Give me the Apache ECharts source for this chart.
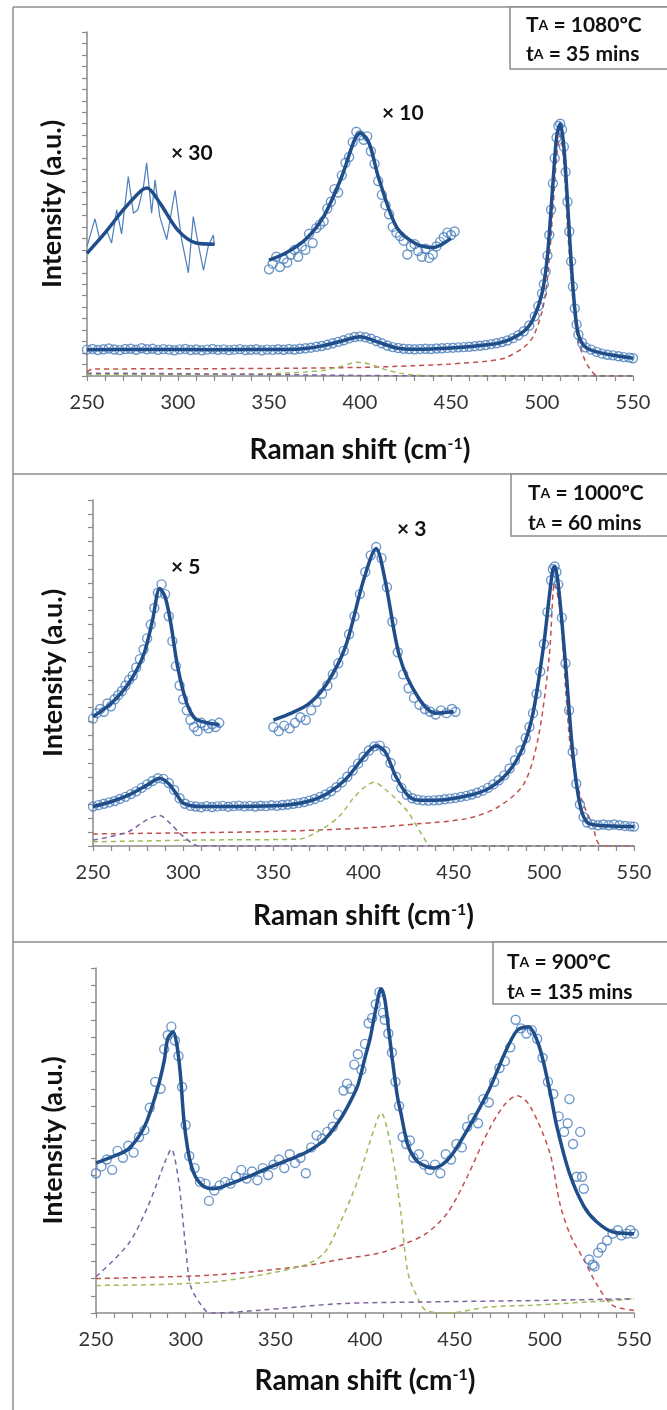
<!DOCTYPE html>
<html>
<head>
<meta charset="utf-8">
<script src="https://cdn.jsdelivr.net/npm/echarts@6/dist/echarts.min.js"></script>
<style>
html, body { margin: 0; padding: 0; background: #fff; }
#chart { width: 667px; height: 1410px; }
</style>
</head>
<body>
<div id="chart"></div>
<script>
// ***** panel 1 : TA = 1080ºC, tA = 35 mins
var p1Dots = [[250,2.30],[253,2.36],[256,2.27],[259,2.33],[262,2.40],[265,2.31],[268,2.26],[271,2.35],[274,2.38],[277,2.29],
  [280,2.42],[283,2.33],[286,2.37],[289,2.28],[292,2.34],[295,2.30],[298,2.25],[301,2.32],[304,2.36],[307,2.27],
  [310,2.31],[313,2.24],[316,2.30],[319,2.35],[322,2.28],[325,2.32],[328,2.26],[331,2.30],[334,2.34],[337,2.27],
  [340,2.29],[343,2.33],[346,2.25],[349,2.30],[352,2.28],[355,2.33],[358,2.29],[361,2.35],[364,2.31],[367,2.38],
  [370,2.42],[373,2.47],[376,2.55],[379,2.62],[382,2.72],[385,2.85],[388,2.98],[391,3.12],[394,3.28],[397,3.40],
  [400,3.46],[403,3.38],[406,3.25],[409,3.05],[412,2.85],[415,2.66],[418,2.52],[421,2.44],[424,2.38],[427,2.35],
  [430,2.33],[433,2.36],[436,2.38],[439,2.35],[442,2.40],[445,2.42],[448,2.45],[451,2.47],[454,2.50],[457,2.52],
  [460,2.55],[463,2.60],[466,2.64],[469,2.70],[472,2.78],[475,2.86],[478,2.96],[481,3.10],[484,3.30],[487,3.55],
  [490,3.90],[493,4.40],[496,5.20],[498,6.10],[500,7.20],[501,8.00],[502,9.10],[503,10.5],[504,12.3],[505,14.5],
  [506,16.8],[507,19.0],[508,20.8],[509,21.8],[510,22.0],[511,21.5],[512,20.0],[513,17.8],[514,15.2],[515,12.6],
  [516,10.0],[517,7.8],[518,5.9],[519,4.5],[520,3.6],[522,2.9],[524,2.5],[527,2.3],[530,2.1],[533,1.95],
  [536,1.85],[539,1.80],[542,1.72],[545,1.65],[548,1.60],[550,1.55]]
var p1Fit = [[250,2.3],[280,2.32],[320,2.3],[360,2.32],[370,2.4],[380,2.65],[390,3.05],[400,3.42],[410,2.95],[420,2.45],
  [430,2.34],[450,2.45],[470,2.72],[480,3.05],[490,3.9],[495,4.9],[500,7.2],[503,10.5],[506,16.8],[508,20.8],
  [510,22.0],[512,20.0],[514,15.2],[516,10.0],[518,5.9],[520,3.6],[524,2.5],[530,2.1],[540,1.78],[550,1.55]]
var p1Red = [[250,0.35],[253,0.6],[300,0.63],[350,0.66],[400,0.75],[430,0.9],[450,1.05],[470,1.3],[480,1.6],[490,2.5],
  [495,3.4],[500,5.6],[503,8.5],[506,14.5],[508,19.0],[510,21.0],[512,18.5],[514,13.0],[516,8.5],[518,5.0],
  [520,3.0],[523,1.6],[526,0.7],[530,0.05],[535,0],[550,0]]
var p1Green = [[250,0.12],[300,0.12],[350,0.2],[370,0.35],[380,0.5],[390,0.85],[398,1.2],[402,1.15],[408,0.9],[415,0.5],
  [422,0.25],[430,0.08],[440,0.03],[550,0]]
var p1Purple = [[250,0.25],[300,0.2],[400,0.05],[450,0],[550,0]]
// x10 inset
var p1x10Dots = [[350,9.3],[352,9.8],[354,10.4],[356,9.5],[358,10.2],[360,9.9],[362,10.6],[364,11.0],[366,10.4],[368,11.3],
  [370,11.0],[372,12.4],[374,11.6],[376,12.9],[378,13.2],[380,13.5],[382,14.6],[384,15.2],[386,16.3],[388,16.0],
  [390,17.5],[392,18.6],[394,19.1],[396,20.4],[398,21.3],[400,21.0],[402,20.6],[404,20.9],[406,19.6],[408,18.5],
  [410,17.0],[412,15.8],[414,14.9],[416,14.1],[418,13.0],[420,12.5],[422,12.2],[424,11.8],[426,10.6],[428,11.3],
  [430,11.5],[432,10.9],[434,10.4],[436,11.1],[438,10.3],[440,10.6],[442,11.3],[444,11.7],[446,12.1],[448,12.5],
  [450,12.3],[452,12.6]]
var p1x10Fit = [[350,10.1],[360,10.8],[370,11.9],[380,13.9],[390,17.4],[397,20.6],[400,21.2],[405,20.3],[410,17.4],
  [420,13.0],[430,11.6],[440,11.2],[450,12.0]]
// x30 inset
var p1x30Raw = [[250,11.3],[254.4,13.7],[257,11.9],[260.8,12.7],[263.5,11.6],[266.3,14.5],[269,12.4],[272.7,17.4],
  [275.5,14.2],[278,14.5],[281,16.5],[282.8,18.6],[285.5,14.2],[287.4,17.1],[290,13.9],[293.8,11.9],[298.4,16.2],
  [302,11.9],[305.7,9.0],[308.4,13.9],[311,11.6],[314,9.2],[316.6,11.3],[319.4,12.3],[320,11.4]]
var p1x30Fit = [[250,10.7],[260,12.5],[270,14.5],[280,16.2],[283,16.4],[290,15.1],[300,12.7],[310,11.6],[320,11.5]]

// ***** panel 2 : TA = 1000ºC, tA = 60 mins
var p2Dots = [[250,2.85],[253,2.95],[256,3.05],[259,3.15],[262,3.25],[265,3.40],[268,3.55],[271,3.75],[274,3.95],[277,4.20],
  [280,4.45],[283,4.70],[286,4.90],[289,4.85],[292,4.55],[295,4.05],[298,3.45],[301,3.05],[304,2.90],[307,2.85],
  [310,2.80],[313,2.88],[316,2.82],[319,2.86],[322,2.90],[325,2.84],[328,2.88],[331,2.92],[334,2.86],[337,2.90],
  [340,2.85],[343,2.91],[346,2.88],[349,2.94],[352,2.90],[355,2.96],[358,3.00],[361,3.05],[364,3.10],[367,3.18],
  [370,3.28],[373,3.40],[376,3.55],[379,3.72],[382,3.95],[385,4.25],[388,4.60],[391,5.00],[394,5.45],[397,5.95],
  [400,6.45],[403,6.90],[406,7.20],[409,7.25],[412,6.85],[415,6.00],[418,5.00],[421,4.20],[424,3.70],[427,3.45],
  [430,3.35],[433,3.30],[436,3.28],[439,3.30],[442,3.32],[445,3.38],[448,3.42],[451,3.48],[454,3.55],[457,3.62],
  [460,3.72],[463,3.85],[466,4.00],[469,4.20],[472,4.45],[475,4.75],[478,5.10],[481,5.60],[484,6.20],[487,6.90],
  [490,7.80],[492,8.60],[494,9.60],[496,11.0],[498,12.6],[500,14.6],[502,16.9],[504,19.2],[505,20.0],[506,20.2],
  [507,19.8],[508,18.9],[510,16.5],[512,13.2],[514,9.8],[516,6.8],[518,4.5],[520,3.0],[522,2.1],[524,1.7],
  [527,1.55],[530,1.5],[533,1.55],[536,1.5],[539,1.55],[542,1.5],[545,1.45],[548,1.42],[550,1.4]]
var p2Fit = [[250,2.85],[260,3.2],[270,3.7],[280,4.4],[287,4.9],[292,4.5],[296,3.8],[300,3.1],[310,2.85],[340,2.87],
  [360,3.0],[370,3.25],[380,3.8],[390,4.8],[400,6.4],[407,7.25],[412,6.8],[418,5.0],[425,3.6],[432,3.3],
  [445,3.35],[460,3.7],[470,4.2],[480,5.3],[488,7.0],[494,9.6],[500,14.6],[503,18.0],[505,20.0],[506,20.2],
  [508,18.9],[512,13.2],[516,6.8],[520,3.0],[524,1.7],[530,1.5],[550,1.4]]
var p2Red = [[250,0.87],[300,0.95],[350,1.05],[400,1.3],[430,1.6],[458,2.0],[475,2.85],[489,4.5],[497,7.9],[503,13.7],
  [506,19.0],[509,17.0],[512,11.5],[515,6.8],[519,4.2],[522,3.0],[527,1.5],[531,0.1],[540,0],[550,0]]
var p2Green = [[250,0.3],[309,0.43],[364,0.5],[378,1.3],[387,2.2],[394,3.4],[401,4.3],[406,4.6],[412,4.1],[418,3.4],
  [425,2.4],[432,0.9],[438,0],[550,0]]
var p2Purple = [[250,0.43],[269,1.0],[280,1.9],[287,2.2],[293,1.6],[300,0.7],[309,0],[550,0]]
// x5 inset
var p2x5Dots = [[250,9.2],[252,9.6],[254,9.9],[256,9.7],[258,10.3],[260,10.1],[262,10.6],[264,10.9],[266,11.2],[268,11.6],
  [270,12.0],[272,12.3],[274,12.9],[276,13.5],[278,14.2],[280,15.0],[282,16.0],[284,17.2],[286,18.3],[288,18.9],
  [290,18.2],[292,16.6],[294,14.8],[296,13.0],[298,11.6],[300,10.6],[302,9.8],[304,9.1],[306,8.6],[308,8.3],
  [310,8.9],[312,8.7],[314,8.5],[316,8.8],[318,8.6],[320,8.9]]
var p2x5Fit = [[250,9.35],[260,10.3],[270,11.8],[278,13.8],[283,16.3],[287,18.6],[290,18.0],[293,16.2],[297,12.9],
  [302,10.3],[306,9.3],[310,9.0],[320,8.75]]
// x3 inset
var p2x3Dots = [[350,8.6],[353,8.3],[356,8.7],[359,8.5],[362,8.9],[365,9.3],[368,9.1],[371,9.8],[374,10.4],[377,11.0],
  [380,11.6],[383,12.4],[386,13.2],[389,14.1],[392,15.3],[395,16.6],[398,18.2],[401,19.8],[404,21.0],[407,21.6],
  [410,20.8],[413,18.7],[416,16.2],[419,14.0],[422,12.4],[425,11.4],[428,10.7],[431,10.2],[434,9.9],[437,9.7],
  [440,9.5],[443,9.8],[446,9.6],[449,9.9],[451,9.7]]
var p2x3Fit = [[350,9.1],[360,9.6],[370,10.3],[380,11.8],[390,14.4],[400,19.2],[407,21.5],[412,19.2],[420,13.7],
  [430,10.8],[440,9.6],[450,9.7]]

// ***** panel 3 : TA = 900ºC, tA = 135 mins
var p3Dots = [[250,8.1],[253,8.5],[256,8.9],[259,8.3],[262,9.4],[265,9.0],[268,9.7],[271,9.3],[274,10.2],[277,10.6],
  [280,11.9],[283,13.4],[286,13.0],[288,15.3],[290,16.1],[292,16.6],[294,15.8],[296,14.9],[298,13.1],[300,10.9],
  [302,9.1],[305,8.4],[308,7.6],[311,7.5],[313,6.5],[316,7.1],[319,7.4],[322,7.6],[325,7.5],[328,7.9],
  [331,8.3],[334,7.8],[337,8.2],[340,7.7],[343,8.4],[346,8.0],[349,8.6],[352,8.9],[355,8.4],[358,9.2],
  [361,8.7],[364,9.0],[367,8.1],[370,9.6],[373,10.3],[376,10.1],[379,10.5],[382,10.8],[385,11.5],[388,12.9],
  [390,13.3],[392,13.0],[394,14.4],[396,15.0],[398,14.1],[400,15.6],[402,16.8],[404,17.1],[406,17.9],[408,18.6],
  [410,17.4],[411,17.0],[413,16.2],[415,15.1],[417,13.4],[419,12.0],[421,10.2],[423,9.8],[425,10.0],[427,9.0],
  [430,9.2],[433,8.6],[436,8.3],[439,8.6],[442,8.1],[445,9.2],[448,8.9],[451,9.8],[454,9.6],[457,10.8],
  [460,11.3],[463,11.0],[466,12.4],[469,12.2],[472,13.4],[475,14.2],[478,14.6],[481,15.4],[484,17.0],[487,16.5],
  [490,16.2],[493,16.4],[496,15.9],[499,14.8],[502,13.4],[505,12.7],[508,11.4],[511,10.5],[513,11.0],[514,12.4],
  [516,9.8],[518,7.9],[520,10.5],[521,7.9],[522,7.2],[525,3.1],[527,2.8],[528,2.7],[530,3.5],[532,3.8],
  [535,4.2],[538,4.6],[541,4.8],[543,4.5],[546,4.6],[548,4.8],[550,4.6]]
var p3Fit = [[250,8.7],[260,9.1],[268,9.5],[277,10.8],[284,12.9],[288,14.6],[290,15.9],[293,16.3],[295,15.6],[297,13.9],
  [299,11.2],[301,9.6],[303,8.6],[306,7.8],[310,7.35],[315,7.2],[320,7.3],[335,7.9],[348,8.5],[358,8.9],
  [367,9.3],[377,10.0],[386,11.2],[392,12.3],[396,13.2],[400,14.8],[403,16.0],[406,17.6],[409,18.8],[411,18.2],
  [413,16.6],[415,14.9],[418,12.6],[420,11.6],[424,9.7],[429,8.8],[434,8.5],[438,8.4],[443,8.6],[448,9.1],
  [457,10.6],[469,12.9],[479,15.3],[485,16.4],[491,16.6],[497,15.5],[503,12.9],[507,10.8],[514,8.1],[522,6.2],
  [529,5.3],[538,4.7],[550,4.6]]
var p3Red = [[250,2.0],[315,2.2],[364,2.7],[386,3.1],[409,3.5],[422,4.0],[434,4.6],[446,5.8],[457,7.9],[469,10.6],
  [478,12.1],[485,12.6],[492,12.0],[503,9.3],[509,6.2],[515,4.4],[522,3.1],[529,1.7],[538,0.45],[550,0.15]]
var p3Green = [[250,1.6],[315,1.8],[364,2.7],[377,3.45],[386,5.2],[396,7.7],[403,10.0],[409,11.6],[415,9.3],[420,5.8],
  [424,2.3],[430,0.74],[434,0.15],[446,0],[469,0.35],[493,0.45],[540,0.74],[550,0.83]]
var p3Purple = [[250,2.1],[268,4.0],[279,6.2],[289,8.9],[292,9.5],[296,7.7],[300,3.8],[303,1.5],[311,0.15],[315,0],
  [340,0.15],[386,0.54],[434,0.64],[505,0.74],[550,0.83]]

var yMax = [30, 25, 20]
var tempText = ['1080', '1000', '900']
var timeText = ['35', '60', '135']
var gains = [['× 30', '× 10'], ['× 5', '× 3'], []]

var myChart = echarts.init(document.getElementById('chart'))
var font = 'Lato, "Open Sans", sans-serif'
var axisGray = '#8a8a8a'
var dotBlue = '#4a7ebb'
var fitBlue = '#1f4e8a'

var grids = [
  { left: 87, top: 32, width: 546, height: 344 },
  { left: 93, top: 500, width: 541, height: 346 },
  { left: 96, top: 968, width: 538, height: 345 }
]
var yNameGap = [21, 26, 29]
var xNameGap = [60, 56, 54]

function xAxisOf(i) {
  return {
    type: 'value', gridIndex: i, min: 250, max: 550, interval: 50,
    name: '{t|Raman shift (cm}{s|-1}{t|)}',
    nameLocation: 'middle', nameGap: xNameGap[i],
    nameTextStyle: {
      rich: {
        t: { fontSize: 28, fontWeight: 'bold', fontFamily: font, color: '#111' },
        s: { fontSize: 16, fontWeight: 'bold', fontFamily: font, color: '#111', verticalAlign: 'top' }
      }
    },
    axisLine: { lineStyle: { color: axisGray, width: 1.5 } },
    axisTick: { length: 5, lineStyle: { color: axisGray, width: 1.2 } },
    minorTick: { show: true, splitNumber: 5, length: 5, lineStyle: { color: axisGray, width: 1.2 } },
    splitLine: { show: false },
    axisLabel: { fontSize: 20, fontFamily: font, color: '#333', margin: 17 }
  }
}

function yAxisOf(i) {
  return {
    type: 'value', gridIndex: i, min: 0, max: yMax[i], interval: 1,
    name: 'Intensity (a.u.)', nameLocation: 'middle', nameGap: yNameGap[i],
    nameTextStyle: { fontSize: 27, fontWeight: 'bold', fontFamily: font, color: '#111' },
    axisLine: { show: true, lineStyle: { color: axisGray, width: 1.5 } },
    axisTick: { show: true, length: 5, lineStyle: { color: axisGray, width: 1.2 } },
    axisLabel: { show: false },
    splitLine: { show: false }
  }
}

function dots(data, i) {
  return {
    type: 'scatter', xAxisIndex: i, yAxisIndex: i, data: data, symbol: 'circle', symbolSize: 9, z: 3,
    itemStyle: { color: 'rgba(0,0,0,0)', borderColor: dotBlue, borderWidth: 1.4 }
  }
}
function fit(data, i) {
  return {
    type: 'line', xAxisIndex: i, yAxisIndex: i, data: data, smooth: 0.3, showSymbol: false, z: 4,
    lineStyle: { color: fitBlue, width: 3.5 }
  }
}
function dash(data, i, color) {
  return {
    type: 'line', xAxisIndex: i, yAxisIndex: i, data: data, smooth: 0.3, showSymbol: false, z: 2,
    lineStyle: { color: color, width: 1.5, type: [5, 4] }
  }
}
function raw(data, i) {
  return {
    type: 'line', xAxisIndex: i, yAxisIndex: i, data: data, showSymbol: false, z: 3,
    lineStyle: { color: dotBlue, width: 1.2 }
  }
}

var red = '#c0504d', green = '#9bbb59', purple = '#8064a2'

var series = [
  dash(p1Red, 0, red), dash(p1Green, 0, green), dash(p1Purple, 0, purple),
  dots(p1Dots, 0), fit(p1Fit, 0),
  dots(p1x10Dots, 0), fit(p1x10Fit, 0),
  raw(p1x30Raw, 0), fit(p1x30Fit, 0),
  dash(p2Red, 1, red), dash(p2Green, 1, green), dash(p2Purple, 1, purple),
  dots(p2Dots, 1), fit(p2Fit, 1),
  dots(p2x5Dots, 1), fit(p2x5Fit, 1),
  dots(p2x3Dots, 1), fit(p2x3Fit, 1),
  dash(p3Red, 2, red), dash(p3Green, 2, green), dash(p3Purple, 2, purple),
  dots(p3Dots, 2), fit(p3Fit, 2)
]

// frames and info boxes
var frameStroke = { stroke: '#8c8c8c', lineWidth: 1.5 }
var graphic = [
  { type: 'line', shape: { x1: 13, y1: 7, x2: 13, y2: 1410 }, style: frameStroke },
  { type: 'line', shape: { x1: 13, y1: 7, x2: 667, y2: 7 }, style: frameStroke },
  { type: 'line', shape: { x1: 13, y1: 474, x2: 667, y2: 474 }, style: frameStroke },
  { type: 'line', shape: { x1: 13, y1: 942, x2: 667, y2: 942 }, style: frameStroke }
]
var boxes = [
  { x: 510, y: 7, tx: 526, r1: 25, r2: 54 },
  { x: 511, y: 474, tx: 528, r1: 493, r2: 523 },
  { x: 493, y: 942, tx: 507, r1: 962, r2: 992 }
]
var boxRich = {
  a: { fontSize: 21, fontWeight: 'bold', fontFamily: font, fill: '#111' },
  s: { fontSize: 14, fontWeight: 'bold', fontFamily: font, fill: '#111', verticalAlign: 'bottom', padding: [0, 0, 3, 0] }
}
boxes.forEach(function (b, i) {
  graphic.push({ type: 'rect', shape: { x: b.x, y: b.y, width: 200, height: 62 },
    style: { fill: '#fff', stroke: '#8c8c8c', lineWidth: 1.5 }, z: 10 })
  graphic.push({ type: 'text', x: b.tx, y: b.r1, z: 11,
    style: { text: '{a|T}{s|A}{a| = ' + tempText[i] + 'ºC}', rich: boxRich, verticalAlign: 'middle' } })
  graphic.push({ type: 'text', x: b.tx, y: b.r2, z: 11,
    style: { text: '{a|t}{s|A}{a| = ' + timeText[i] + ' mins}', rich: boxRich, verticalAlign: 'middle' } })
})
var gainPos = [[[171, 153], [382, 113]], [[171, 567], [397, 529]]]
gainPos.forEach(function (ps, i) {
  ps.forEach(function (p, j) {
    graphic.push({ type: 'text', x: p[0], y: p[1], z: 11,
      style: { text: gains[i][j], font: 'bold 21px ' + font, fill: '#111', verticalAlign: 'middle' } })
  })
})

myChart.setOption({
  animation: false,
  grid: grids,
  xAxis: [xAxisOf(0), xAxisOf(1), xAxisOf(2)],
  yAxis: [yAxisOf(0), yAxisOf(1), yAxisOf(2)],
  series: series,
  graphic: graphic
})
</script>
</body>
</html>
